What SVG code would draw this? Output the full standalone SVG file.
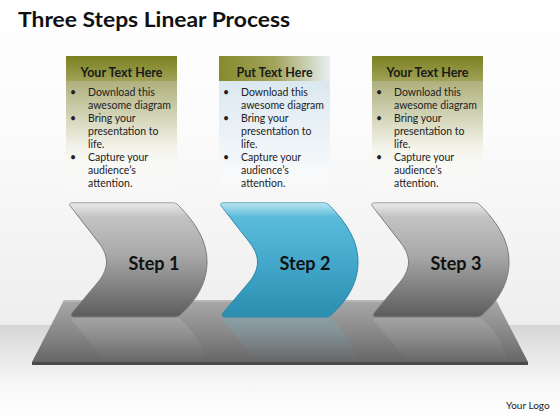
<svg xmlns="http://www.w3.org/2000/svg" width="560" height="420" viewBox="0 0 560 420">
<defs>
<style>
.title{font-family:Lato,"Open Sans","Liberation Sans",sans-serif;font-weight:bold;font-size:21px;fill:#111}
.hdr{font-family:Lato,"Open Sans","Liberation Sans",sans-serif;font-weight:bold;font-size:12.5px;fill:#1a1a1a;text-anchor:middle}
.body{font-family:Lato,"Open Sans","Liberation Sans",sans-serif;font-size:10.5px;fill:#222}
.step{font-family:Lato,"Open Sans","Liberation Sans",sans-serif;font-weight:bold;font-size:18px;fill:#111;text-anchor:middle}
.logo{font-family:Lato,"Open Sans","Liberation Sans",sans-serif;font-size:10px;fill:#222}
</style>
<linearGradient id="bg" x1="0" y1="0" x2="0" y2="1">
<stop offset="0" stop-color="#ffffff"/><stop offset="0.4" stop-color="#fbfbfb"/><stop offset="1" stop-color="#eeeeee"/>
</linearGradient>
<linearGradient id="floor" x1="0" y1="0" x2="0" y2="1">
<stop offset="0" stop-color="#d6d6d6"/><stop offset="0.6" stop-color="#f6f6f6"/><stop offset="1" stop-color="#ffffff"/>
</linearGradient>
<linearGradient id="hdrG" x1="0" y1="0" x2="0" y2="1">
<stop offset="0" stop-color="#7b801f"/><stop offset="1" stop-color="#a0a258"/>
</linearGradient>
<linearGradient id="hdrG2" x1="0" y1="0" x2="1" y2="0">
<stop offset="0" stop-color="#868a2c"/><stop offset="0.5" stop-color="#a2a45c"/><stop offset="1" stop-color="#e8eff2"/>
</linearGradient>
<linearGradient id="bodyG" x1="0" y1="0" x2="0" y2="1">
<stop offset="0" stop-color="#aeb07c"/><stop offset="0.6" stop-color="#f4f4ec"/><stop offset="1" stop-color="#ffffff" stop-opacity="0"/>
</linearGradient>
<linearGradient id="bodyG2" x1="0" y1="0" x2="0" y2="1">
<stop offset="0" stop-color="#dbe8f0"/><stop offset="0.7" stop-color="#f3f7fa"/><stop offset="1" stop-color="#ffffff" stop-opacity="0"/>
</linearGradient>
<linearGradient id="gray" x1="0" y1="0" x2="0" y2="1">
<stop offset="0" stop-color="#cdcdcd"/><stop offset="0.45" stop-color="#a9a9a9"/><stop offset="1" stop-color="#5c5c5c"/>
</linearGradient>
<linearGradient id="blue" x1="0" y1="0" x2="0" y2="1">
<stop offset="0" stop-color="#62c2df"/><stop offset="0.5" stop-color="#44a9cc"/><stop offset="1" stop-color="#2b8db0"/>
</linearGradient>
<linearGradient id="plat" x1="0" y1="0" x2="0" y2="1">
<stop offset="0" stop-color="#a8a8a8"/><stop offset="0.5" stop-color="#8a8a8a"/><stop offset="1" stop-color="#666666"/>
</linearGradient>
<linearGradient id="fade" x1="0" y1="0" x2="0" y2="1">
<stop offset="0" stop-color="#fff" stop-opacity="0.22"/><stop offset="1" stop-color="#fff" stop-opacity="0"/>
</linearGradient>
<linearGradient id="shine" x1="0" y1="0" x2="0" y2="1">
<stop offset="0" stop-color="#fff" stop-opacity="0.55"/><stop offset="0.12" stop-color="#fff" stop-opacity="0"/>
</linearGradient>
<mask id="reflMask" maskUnits="userSpaceOnUse" x="0" y="300" width="560" height="70">
<rect x="0" y="317" width="560" height="45" fill="url(#fade)"/>
</mask>
<path id="chev" d="M72,203 L174,203 Q176,203 178,205 C198,225 207,243 207,262 C207,282 197,300 180,315 Q178,317 175,317 L74,317 Q70,317 72,313 L99,281 C109,268 109,256 99,243 L71,207 Q68,203 72,203 Z"/>
</defs>

<rect x="0" y="0" width="560" height="325" fill="url(#bg)"/>
<rect x="0" y="325" width="560" height="95" fill="url(#floor)"/>

<text class="title" x="18" y="27" textLength="272" lengthAdjust="spacingAndGlyphs">Three Steps Linear Process</text>

<g id="box1">
<rect x="66" y="81" width="111" height="112" fill="url(#bodyG)"/>
<rect x="66" y="56" width="111" height="25" fill="url(#hdrG)"/>
<text class="hdr" x="121.5" y="77">Your Text Here</text>
<g class="body">
<text x="70" y="96">•</text><text x="88" y="96">Download this</text>
<text x="88" y="109">awesome diagram</text>
<text x="70" y="122">•</text><text x="88" y="122">Bring your</text>
<text x="88" y="135">presentation to</text>
<text x="88" y="148">life.</text>
<text x="70" y="161">•</text><text x="88" y="161">Capture your</text>
<text x="88" y="174">audience’s</text>
<text x="88" y="187">attention.</text>
</g>
</g>

<g id="box2">
<rect x="219" y="81" width="111" height="112" fill="url(#bodyG2)"/>
<rect x="219" y="56" width="111" height="25" fill="url(#hdrG2)"/>
<text class="hdr" x="274.5" y="77">Put Text Here</text>
<g class="body">
<text x="223" y="96">•</text><text x="241" y="96">Download this</text>
<text x="241" y="109">awesome diagram</text>
<text x="223" y="122">•</text><text x="241" y="122">Bring your</text>
<text x="241" y="135">presentation to</text>
<text x="241" y="148">life.</text>
<text x="223" y="161">•</text><text x="241" y="161">Capture your</text>
<text x="241" y="174">audience’s</text>
<text x="241" y="187">attention.</text>
</g>
</g>

<g id="box3">
<rect x="372" y="81" width="111" height="112" fill="url(#bodyG)"/>
<rect x="372" y="56" width="111" height="25" fill="url(#hdrG)"/>
<text class="hdr" x="427.5" y="77">Your Text Here</text>
<g class="body">
<text x="376" y="96">•</text><text x="394" y="96">Download this</text>
<text x="394" y="109">awesome diagram</text>
<text x="376" y="122">•</text><text x="394" y="122">Bring your</text>
<text x="394" y="135">presentation to</text>
<text x="394" y="148">life.</text>
<text x="376" y="161">•</text><text x="394" y="161">Capture your</text>
<text x="394" y="174">audience’s</text>
<text x="394" y="187">attention.</text>
</g>
</g>

<g id="platform">
<polygon points="64,300 496,300 528,362 32,362" fill="url(#plat)"/>
<polygon points="64,300 496,300 497,302 63,302" fill="#bdbdbd" opacity="0.7"/>
<rect x="32" y="362" width="496" height="3" fill="#4a4a4a"/>
<g mask="url(#reflMask)">
<use href="#chev" fill="#d0d0d0" transform="translate(0,634) scale(1,-1)"/>
<use href="#chev" fill="#5ec3e2" transform="translate(151,634) scale(1,-1)"/>
<use href="#chev" fill="#d0d0d0" transform="translate(302,634) scale(1,-1)"/>
</g>
</g>

<g id="connectors"></g>

<g id="step1">
<use href="#chev" fill="url(#gray)" stroke="#7a7a7a" stroke-width="1"/>
<use href="#chev" fill="url(#shine)"/>
<text class="step" x="154" y="270">Step 1</text>
</g>
<g id="step2">
<use href="#chev" fill="url(#blue)" stroke="#2a87a8" stroke-width="1" transform="translate(151,0)"/>
<use href="#chev" fill="url(#shine)" transform="translate(151,0)"/>
<text class="step" x="305" y="270">Step 2</text>
</g>
<g id="step3">
<use href="#chev" fill="url(#gray)" stroke="#7a7a7a" stroke-width="1" transform="translate(302,0)"/>
<use href="#chev" fill="url(#shine)" transform="translate(302,0)"/>
<text class="step" x="456" y="270">Step 3</text>
</g>

<text class="logo" x="506" y="409">Your Logo</text>
</svg>
